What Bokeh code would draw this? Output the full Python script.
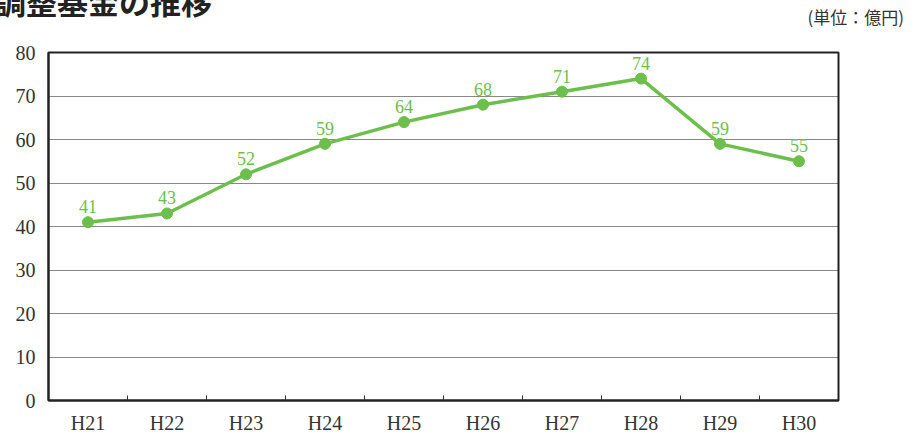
from bokeh.plotting import figure
from bokeh.models import Range1d, FixedTicker, LabelSet, ColumnDataSource, Div
from bokeh.layouts import column
from bokeh.embed import file_html
from bokeh.resources import INLINE

years = ["H21", "H22", "H23", "H24", "H25", "H26", "H27", "H28", "H29", "H30"]
values = [41, 43, 52, 59, 64, 68, 71, 74, 59, 55]
y_ticks = [0, 10, 20, 30, 40, 50, 60, 70, 80]
title_text = "調整基金の推移"
unit_text = "(単位：億円)"

GREEN = "#6cbf4c"
xs = [i + 0.5 for i in range(len(years))]
src = ColumnDataSource(dict(x=xs, y=values, lbl=[str(v) for v in values]))

W = 900
HW = 908
HEAD = 30
H = 436 - HEAD
BL, BT, BR, BB = 48, 52 - HEAD, 62, 31

head = Div(width=HW, height=HEAD, margin=(0, 0, 0, 0), text=(
    f'<div style="position:relative;width:{HW}px;height:{HEAD}px;overflow:hidden;">'
    f'<span style="position:absolute;left:-5px;top:-15px;font-family:\'Noto Sans CJK JP\';'
    f'font-weight:bold;font-size:31px;line-height:31px;color:#222;white-space:nowrap;">{title_text}</span>'
    f'<span style="position:absolute;right:4px;top:7px;font-family:\'Noto Sans CJK JP\';'
    f'font-size:17px;line-height:20px;color:#333;white-space:nowrap;">{unit_text}</span>'
    '</div>'))

p = figure(width=W, height=H, output_backend="svg", toolbar_location=None,
           x_range=Range1d(0, len(years)), y_range=Range1d(y_ticks[0], y_ticks[-1]),
           min_border_left=BL, min_border_right=BR, min_border_top=BT, min_border_bottom=BB,
           margin=(0, 0, 0, 0))
p.background_fill_color = "white"
p.border_fill_color = "white"
p.outline_line_color = "#222222"
p.outline_line_width = 2

p.xgrid.grid_line_color = None
p.ygrid.grid_line_color = "#111111"
p.ygrid.grid_line_width = 1
p.ygrid.grid_line_dash = "1 1"
p.ygrid.ticker = FixedTicker(ticks=y_ticks)

p.line("x", "y", source=src, line_color=GREEN, line_width=3.5)
p.scatter("x", "y", source=src, size=11, fill_color=GREEN, line_color=GREEN)
p.add_layout(LabelSet(x="x", y="y", text="lbl", source=src, text_align="center",
                      text_baseline="alphabetic", y_offset=9, text_color=GREEN,
                      text_font="Liberation Sans", text_font_size="18px"))

xa = p.xaxis[0]
xa.ticker = FixedTicker(ticks=xs, minor_ticks=list(range(1, len(years))))
xa.major_label_overrides = {x: y for x, y in zip(xs, years)}
xa.major_tick_line_color = None
xa.minor_tick_in = 5
xa.minor_tick_out = 0
xa.minor_tick_line_color = "#333333"
xa.axis_line_color = "#222222"
xa.axis_line_width = 2
xa.major_label_text_font = "Liberation Serif"
xa.major_label_text_font_size = "20px"
xa.major_label_text_color = "#333333"
xa.major_label_standoff = 5

ya = p.yaxis[0]
ya.ticker = FixedTicker(ticks=y_ticks)
ya.major_tick_line_color = None
ya.minor_tick_line_color = None
ya.axis_line_color = "#222222"
ya.axis_line_width = 2
ya.major_label_text_font = "Liberation Serif"
ya.major_label_text_font_size = "20px"
ya.major_label_text_color = "#333333"
ya.major_label_standoff = 7

layout = column(head, p, spacing=0)
open("out.html", "w").write(file_html(layout, INLINE))
